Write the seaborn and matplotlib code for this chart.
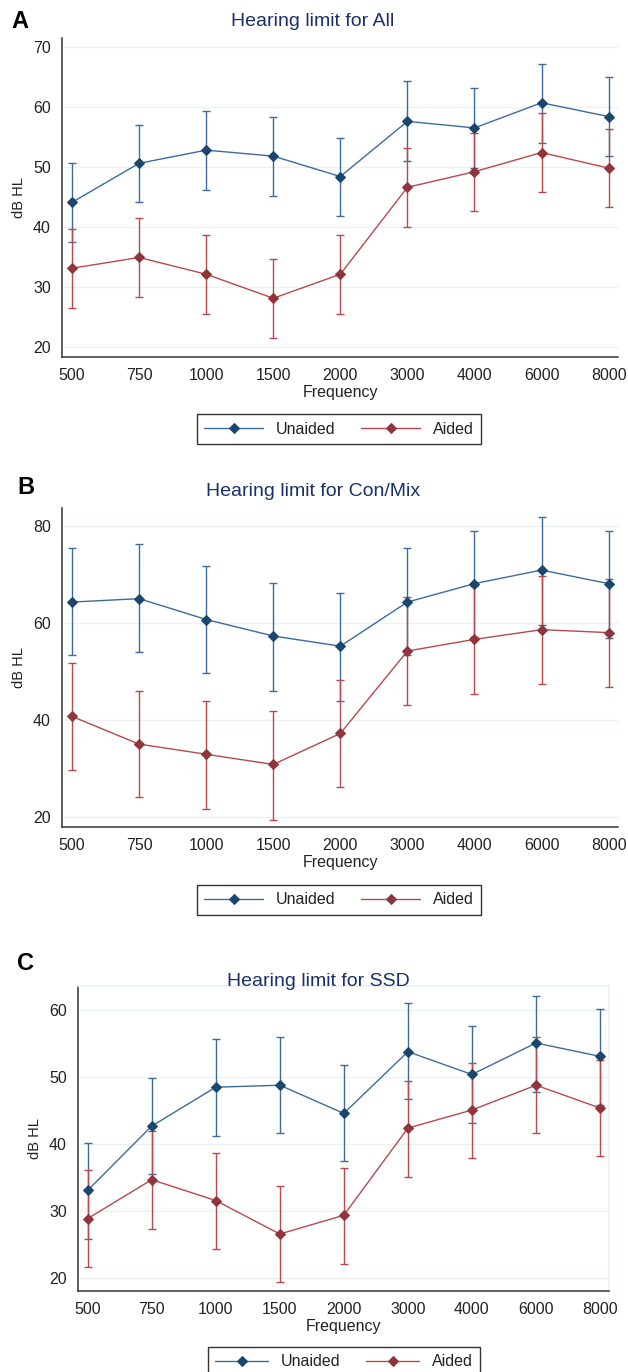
import numpy as np
import pandas as pd
import matplotlib
matplotlib.use("Agg")
import matplotlib.pyplot as plt
import seaborn as sns

# frequencies (categorical x axis)
freqs = ['500', '750', '1000', '1500', '2000', '3000', '4000', '6000', '8000']

# Panel A - All
all_unaided = [44.1, 50.6, 52.8, 51.8, 48.4, 57.6, 56.5, 60.7, 58.4]
all_unaided_lo = [37.5, 44.1, 46.1, 45.2, 41.8, 51.0, 49.9, 54.0, 51.8]
all_unaided_hi = [50.6, 57.0, 59.3, 58.4, 54.8, 64.3, 63.1, 67.2, 65.0]
all_aided = [33.1, 34.9, 32.1, 28.1, 32.1, 46.6, 49.2, 52.4, 49.8]
all_aided_lo = [26.4, 28.3, 25.5, 21.5, 25.5, 39.9, 42.6, 45.8, 43.3]
all_aided_hi = [39.6, 41.4, 38.7, 34.7, 38.7, 53.1, 55.6, 59.0, 56.3]

# Panel B - Con/Mix
cm_unaided = [64.3, 65.0, 60.7, 57.3, 55.2, 64.3, 68.1, 70.9, 68.1]
cm_unaided_lo = [53.3, 54.0, 49.7, 46.0, 43.9, 53.3, 57.1, 59.5, 56.8]
cm_unaided_hi = [75.5, 76.2, 71.8, 68.2, 66.2, 75.5, 79.0, 81.8, 79.0]
cm_aided = [40.7, 35.0, 32.9, 30.8, 37.2, 54.2, 56.6, 58.6, 58.0]
cm_aided_lo = [29.6, 24.0, 21.6, 19.4, 26.1, 43.1, 45.3, 47.4, 46.7]
cm_aided_hi = [51.8, 46.0, 43.9, 41.8, 48.3, 65.4, 67.6, 69.7, 69.0]

# Panel C - SSD
ssd_unaided = [33.1, 42.7, 48.5, 48.8, 44.6, 53.8, 50.4, 55.1, 53.1]
ssd_unaided_lo = [25.9, 35.6, 41.2, 41.7, 37.5, 46.7, 43.1, 47.8, 45.9]
ssd_unaided_hi = [40.2, 49.9, 55.7, 56.0, 51.8, 61.0, 57.6, 62.1, 60.2]
ssd_aided = [28.9, 34.7, 31.6, 26.6, 29.4, 42.4, 45.1, 48.8, 45.4]
ssd_aided_lo = [21.7, 27.4, 24.3, 19.4, 22.1, 35.1, 37.9, 41.7, 38.2]
ssd_aided_hi = [36.1, 41.9, 38.7, 33.7, 36.4, 49.4, 52.1, 56.0, 52.5]

BLUE_LINE = '#3c6b9e'
BLUE_MK = '#1a476f'
RED_LINE = '#b9484c'
RED_MK = '#90353b'
TITLE_COL = '#1c2f6b'
GRID_COL = '#eaf2f3'

sns.set_theme(style='white')
plt.rcParams['font.family'] = ['Liberation Sans', 'DejaVu Sans']

W, H = 628, 1372
fig = plt.figure(figsize=(W / 100, H / 100), dpi=100)


def px_axes(left, top, right, bottom):
    return fig.add_axes([left / W, 1 - bottom / H, (right - left) / W, (bottom - top) / H])


def draw_panel(ax, series, title, ylim, yticks, letter, letter_xy, title_xy, leg_xy,
               frame=False, handle_len=3.7):
    x = np.arange(len(freqs))
    for name, mean, lo, hi, lc, mc in series:
        mean = np.array(mean)
        yerr = [mean - np.array(lo), np.array(hi) - mean]
        ax.errorbar(x, mean, yerr=yerr, fmt='none', ecolor=lc, elinewidth=1.0,
                    capsize=3, capthick=1.0, zorder=2)
        df = pd.DataFrame({'x': x, 'y': mean})
        sns.lineplot(data=df, x='x', y='y', ax=ax, color=lc, linewidth=1.0,
                     marker='D', markersize=5, markerfacecolor=mc,
                     markeredgecolor=mc, label=name, zorder=3)
    ax.set_xlim(-0.15, len(freqs) - 1 + 0.14)
    ax.set_ylim(*ylim)
    ax.set_xticks(x)
    ax.set_xticklabels(freqs)
    ax.set_yticks(yticks)
    ax.yaxis.grid(True, color=GRID_COL, linewidth=1.0)
    ax.xaxis.grid(False)
    ax.set_axisbelow(True)
    for s in ['left', 'bottom']:
        ax.spines[s].set_color('#333333')
        ax.spines[s].set_linewidth(1.1)
    for s in ['top', 'right']:
        ax.spines[s].set_visible(frame)
        ax.spines[s].set_color(GRID_COL)
    ax.tick_params(axis='both', which='major', direction='out', length=5, width=1,
                   color='#333333', labelsize=11.5, labelcolor='#222222', pad=3)
    ax.set_xlabel('Frequency', fontsize=11.5, color='#222222', labelpad=1)
    ax.set_ylabel('dB HL', fontsize=10.5, color='#222222', labelpad=5)
    fig.text(title_xy[0] / W, 1 - title_xy[1] / H, title, ha='center', va='center',
             fontsize=14, color=TITLE_COL)
    fig.text(letter_xy[0] / W, 1 - letter_xy[1] / H, letter, ha='center', va='center',
             fontsize=17, fontweight='bold', color='black')
    leg = ax.legend(loc='center', bbox_to_anchor=(leg_xy[0] / W, 1 - leg_xy[1] / H),
                    bbox_transform=fig.transFigure, ncol=2, frameon=True, fancybox=False,
                    edgecolor='black', fontsize=11.5, handlelength=handle_len,
                    handletextpad=0.8, columnspacing=1.6, borderpad=0.45, borderaxespad=0)
    leg.get_frame().set_linewidth(1.0)
    for t in leg.get_texts():
        t.set_color('#222222')


axA = px_axes(62, 38, 618, 357)
draw_panel(axA,
           [('Unaided', all_unaided, all_unaided_lo, all_unaided_hi, BLUE_LINE, BLUE_MK),
            ('Aided', all_aided, all_aided_lo, all_aided_hi, RED_LINE, RED_MK)],
           'Hearing limit for All', (18.3, 71.5), [20, 30, 40, 50, 60, 70],
           'A', (20, 22), (313, 22), (339, 429))

axB = px_axes(62, 508, 618, 827)
draw_panel(axB,
           [('Unaided', cm_unaided, cm_unaided_lo, cm_unaided_hi, BLUE_LINE, BLUE_MK),
            ('Aided', cm_aided, cm_aided_lo, cm_aided_hi, RED_LINE, RED_MK)],
           'Hearing limit for Con/Mix', (17.9, 83.7), [20, 40, 60, 80],
           'B', (26, 487), (313, 492), (339, 900))

axC = px_axes(78, 986, 609, 1291)
draw_panel(axC,
           [('Unaided', ssd_unaided, ssd_unaided_lo, ssd_unaided_hi, BLUE_LINE, BLUE_MK),
            ('Aided', ssd_aided, ssd_aided_lo, ssd_aided_hi, RED_LINE, RED_MK)],
           'Hearing limit for SSD', (18.1, 63.6), [20, 30, 40, 50, 60],
           'C', (25, 963), (318, 981), (344, 1362), frame=True, handle_len=3.3)

fig.savefig('out.png', dpi=100, facecolor='white')
